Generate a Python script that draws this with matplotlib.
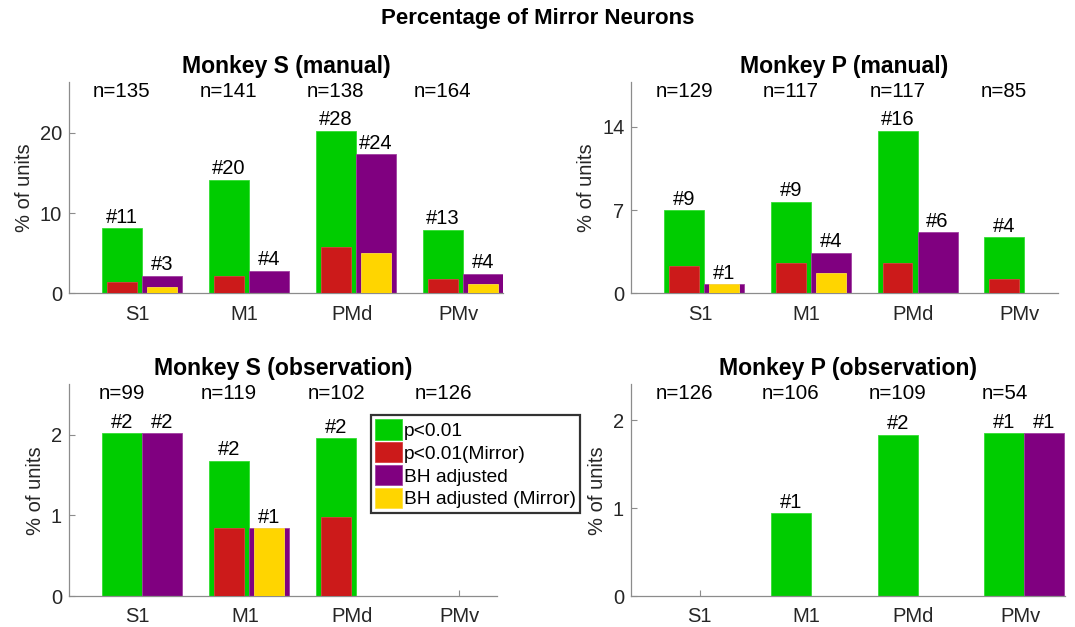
import numpy as np
import matplotlib.pyplot as plt

plt.rcParams['font.family'] = ['Liberation Sans', 'DejaVu Sans']

areas = ['S1', 'M1', 'PMd', 'PMv']
titles = ['Monkey S (manual)', 'Monkey P (manual)',
          'Monkey S (observation)', 'Monkey P (observation)']

# units per area, one row per panel
n_units = [[135, 141, 138, 164],
           [129, 117, 117, 85],
           [99, 119, 102, 126],
           [126, 106, 109, 54]]
# significant units (p<0.01) and mirror subset
sig = [[11, 20, 28, 13],
       [9, 9, 16, 4],
       [2, 2, 2, 0],
       [0, 1, 2, 1]]
sig_mirror = [[2, 3, 8, 3],
              [3, 3, 3, 1],
              [0, 1, 1, 0],
              [0, 0, 0, 0]]
# after Benjamini-Hochberg correction and mirror subset
bh = [[3, 4, 24, 4],
      [1, 4, 6, 0],
      [2, 1, 0, 0],
      [0, 0, 0, 1]]
bh_mirror = [[1, 0, 7, 2],
             [1, 2, 0, 0],
             [0, 1, 0, 0],
             [0, 0, 0, 0]]
yticks = [[0, 10, 20], [0, 7, 14], [0, 1, 2], [0, 1, 2]]

GREEN = '#00cc00'
RED = '#cc1a1a'
PURPLE = '#800080'
YELLOW = '#ffd500'
AXCOL = '#8c8c8c'
TXT = '#262626'

# axes rectangles in figure fraction
positions = [[0.0642, 0.532, 0.4041, 0.3375],
             [0.5873, 0.532, 0.3967, 0.3375],
             [0.0642, 0.0494, 0.3977, 0.3376],
             [0.5870, 0.0494, 0.4037, 0.3376]]
xmax = [4.42, 4.355, 4.35, 4.42]

fig = plt.figure(figsize=(10.75, 6.27), dpi=100)
fig.text(0.5, 0.971, 'Percentage of Mirror Neurons', ha='center', va='center',
         fontsize=16, fontweight='bold')

x = np.arange(1, 5)
xc = x + 0.04
wide = 0.375
narrow = 0.28

for k in range(4):
    ax = fig.add_axes(positions[k])
    n = np.array(n_units[k], dtype=float)
    p_sig = np.array(sig[k]) / n * 100
    p_sigm = np.array(sig_mirror[k]) / n * 100
    p_bh = np.array(bh[k]) / n * 100
    p_bhm = np.array(bh_mirror[k]) / n * 100

    xg = xc - wide / 2
    xp = xc + wide / 2
    ax.bar(xg, p_sig, wide, color=GREEN, edgecolor='#33dd33', lw=0.6, label='p<0.01', zorder=2)
    ax.bar(xg, p_sigm, narrow, color=RED, edgecolor='#d84040', lw=0.6, label='p<0.01(Mirror)', zorder=3)
    ax.bar(xp, p_bh, wide, color=PURPLE, edgecolor='#a040a0', lw=0.6, label='BH adjusted', zorder=2)
    ax.bar(xp, p_bhm, narrow, color=YELLOW, edgecolor='#ffe040', lw=0.6, label='BH adjusted (Mirror)', zorder=3)

    for i in range(4):
        if sig[k][i] > 0:
            ax.annotate(f'#{sig[k][i]}', (xg[i], p_sig[i]), xytext=(0, 1), textcoords='offset points',
                        ha='center', va='bottom', fontsize=14.5, color='black')
        if bh[k][i] > 0:
            ax.annotate(f'#{bh[k][i]}', (xp[i], p_bh[i]), xytext=(0, 1), textcoords='offset points',
                        ha='center', va='bottom', fontsize=14.5, color='black')
        ax.text(xg[i], 0.955, f'n={n_units[k][i]}', transform=ax.get_xaxis_transform(),
                ha='center', va='center', fontsize=14.8, color='black')

    top = max(p_sig.max(), p_bh.max())
    ax.set_ylim(0, top * 1.3)
    ax.set_xlim(0.357, xmax[k])
    ax.set_xticks(x)
    ax.set_xticklabels(areas)
    ax.set_yticks(yticks[k])
    ax.set_ylabel('% of units', fontsize=14.5, color=TXT, labelpad=4)
    ax.set_title(titles[k], fontsize=16.6, fontweight='bold', pad=6.5)
    ax.tick_params(direction='in', length=4, width=0.8, color=AXCOL, labelsize=14.5,
                   labelcolor=TXT)
    ax.tick_params(axis='x', pad=8)
    ax.tick_params(axis='y', pad=5)
    for s in ['top', 'right']:
        ax.spines[s].set_visible(False)
    for s in ['left', 'bottom']:
        ax.spines[s].set_color(AXCOL)
        ax.spines[s].set_linewidth(0.9)

    if k == 2:
        handles, labels = ax.get_legend_handles_labels()
        leg = ax.legend(handles, labels,
                        loc='upper left', bbox_to_anchor=(302 / 427.5, (596 - 415) / 211.7),
                        bbox_transform=ax.transAxes, fontsize=13.8, frameon=True, fancybox=False,
                        handlelength=1.4, handleheight=1.25, handletextpad=0.08,
                        borderpad=0.22, borderaxespad=0, labelspacing=0.12)
        leg.get_frame().set_edgecolor('black')
        leg.get_frame().set_linewidth(1.6)
        leg.set_zorder(5)

fig.savefig('out.png', dpi=100)
